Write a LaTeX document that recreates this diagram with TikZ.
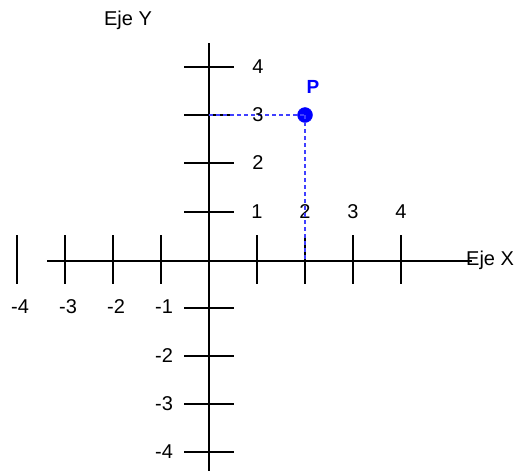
\documentclass[tikz,border=0pt]{standalone}
\usepackage{fontspec}
\setmainfont{Liberation Sans}
\begin{document}
\begin{tikzpicture}[x=1pt,y=-1pt,
  axisline/.style={line width=1.8pt,black},
  tickline/.style={line width=1.8pt,black},
  lbl/.style={font=\fontsize{20}{24}\selectfont,inner sep=0pt},
  guide/.style={blue!75!white,line width=1.1pt,dash pattern=on 4pt off 3pt},
  ptstyle/.style={circle,fill=blue,draw=blue,minimum size=15pt,inner sep=0pt}]
\useasboundingbox (0,0) rectangle (516,474);
% axes
\coordinate (xs) at (47,261);
\coordinate (xe) at (472,261);
\coordinate (ys) at (209,43);
\coordinate (ye) at (209,471);
\draw[axisline] (xs) -- (xe);
\draw[axisline] (ys) -- (ye);
% x ticks
\foreach \k in {-4,-3,-2,-1,1,2,3,4}{
  \coordinate (xt\k a) at ({209+48*\k},235);
  \coordinate (xt\k b) at ({209+48*\k},284);
  \draw[tickline] (xt\k a) -- (xt\k b);
}
% y ticks
\foreach \k/\yy in {4/67,3/115,2/163,1/212,-1/308,-2/356,-3/404,-4/452}{
  \coordinate (yt\k a) at (184,\yy);
  \coordinate (yt\k b) at (234,\yy);
  \draw[tickline] (yt\k a) -- (yt\k b);
}
% labels positive x (also serve 1 on y)
\foreach \k in {1,2,3,4}{
  \node[lbl] (xl\k) at ({209+48*\k},212) {\k};
}
% labels negative x (-1 also serves y)
\foreach \k in {-4,-3,-2,-1}{
  \node[lbl] (xl\k) at ({212+48*\k},307) {\k};
}
% labels positive y
\foreach \k/\yy in {2/163,4/67}{
  \node[lbl] (yl\k) at (258,\yy) {\k};
}
% labels negative y
\foreach \k/\yy in {-4/452,-3/404,-2/356}{
  \node[lbl] (yl\k) at (164,\yy) {\k};
}
% guides to P
\node[ptstyle] (P) at (305,115) {};
\coordinate (py) at (209,115);
\coordinate (px) at (305,261);
\draw[guide] (py) -- (P.center);
\draw[guide] (P.center) -- (px);
\node[lbl] (yl3) at (258,115) {3};
\node[lbl,font=\fontsize{19}{22}\selectfont\bfseries,text=blue] (Pl) at (313,87) {P};
% axis names
\node[lbl,anchor=west] (ex) at (466,260) {Eje X};
\node[lbl] (ey) at (128,20) {Eje Y};
\end{tikzpicture}
\end{document}
